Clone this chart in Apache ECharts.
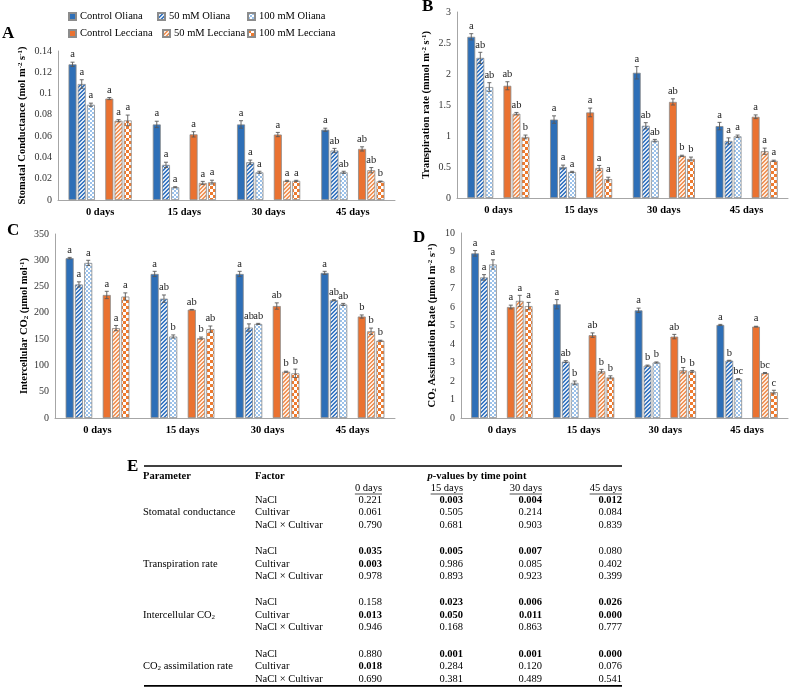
<!DOCTYPE html>
<html><head><meta charset="utf-8">
<script src="https://cdn.jsdelivr.net/npm/echarts@6/dist/echarts.min.js"></script>
<style>html,body{margin:0;padding:0;background:#fff}#c{width:791px;height:695px}</style>
</head><body><div id="c"></div>
<script>
// ---------------- DATA ----------------
const categories = ['0 days', '15 days', '30 days', '45 days'];
const seriesNames = ['Control Oliana', '50 mM Oliana', '100 mM Oliana', 'Control Lecciana', '50 mM Lecciana', '100 mM Lecciana'];

// A: stomatal conductance (rows = series, cols = days)
const conductanceMeans = [
  [0.1275, 0.071, 0.071, 0.066],
  [0.109, 0.033, 0.0355, 0.0465],
  [0.0895, 0.012, 0.026, 0.026],
  [0.0953, 0.0617, 0.0615, 0.048],
  [0.0745, 0.016, 0.018, 0.028],
  [0.0748, 0.0168, 0.018, 0.0175]
];
const conductanceErrors = [
  [0.002, 0.003, 0.0035, 0.0015],
  [0.004, 0.0025, 0.002, 0.002],
  [0.0015, 0.0005, 0.001, 0.001],
  [0.001, 0.0025, 0.002, 0.002],
  [0.001, 0.0015, 0.0005, 0.0025],
  [0.005, 0.0018, 0.0005, 0.0003]
];
const conductanceLetters = [
  ['a', 'a', 'a', 'a'], ['a', 'a', 'a', 'ab'], ['a', 'a', 'a', 'ab'],
  ['a', 'a', 'a', 'ab'], ['a', 'a', 'a', 'ab'], ['a', 'a', 'a', 'b']
];
const conductanceTicks = [0, 0.02, 0.04, 0.06, 0.08, 0.1, 0.12, 0.14];

// B: transpiration rate
const transpirationMeans = [
  [2.6, 1.265, 2.02, 1.16],
  [2.26, 0.5, 1.165, 0.92],
  [1.79, 0.42, 0.925, 0.995],
  [1.81, 1.38, 1.55, 1.31],
  [1.36, 0.485, 0.68, 0.755],
  [0.985, 0.305, 0.63, 0.6]
];
const transpirationErrors = [
  [0.05, 0.06, 0.1, 0.06],
  [0.09, 0.03, 0.05, 0.05],
  [0.07, 0.01, 0.02, 0.02],
  [0.065, 0.07, 0.05, 0.03],
  [0.02, 0.04, 0.01, 0.05],
  [0.03, 0.03, 0.03, 0.01]
];
const transpirationLetters = [
  ['a', 'a', 'a', 'a'], ['ab', 'a', 'ab', 'a'], ['ab', 'a', 'ab', 'a'],
  ['ab', 'a', 'ab', 'a'], ['ab', 'a', 'b', 'a'], ['b', 'a', 'b', 'a']
];
const transpirationTicks = [0, 0.5, 1, 1.5, 2, 2.5, 3];

// C: intercellular CO2
const intercellularMeans = [
  [304, 274, 274, 276],
  [254, 227, 172, 224],
  [295, 155, 179, 216],
  [234, 206, 213, 193],
  [171, 152, 88, 165],
  [231, 169, 85, 147]
];
const intercellularErrors = [
  [1.5, 5, 5, 3],
  [5, 7, 7, 1],
  [5, 3, 1, 2],
  [7, 0.5, 6, 3],
  [5, 2, 1, 6],
  [7, 6, 8, 1]
];
const intercellularLetters = [
  ['a', 'a', 'a', 'a'], ['a', 'ab', 'ab', 'ab'], ['a', 'b', 'ab', 'ab'],
  ['a', 'ab', 'ab', 'b'], ['a', 'b', 'b', 'b'], ['a', 'ab', 'b', 'b']
];
const intercellularTicks = [0, 50, 100, 150, 200, 250, 300, 350];

// D: CO2 assimilation rate
const assimilationMeans = [
  [8.9, 6.15, 5.82, 5.03],
  [7.6, 3.05, 2.83, 3.1],
  [8.3, 1.9, 3.0, 2.1],
  [6.0, 4.48, 4.4, 4.94],
  [6.33, 2.53, 2.58, 2.43],
  [6.05, 2.2, 2.52, 1.4]
];
const assimilationErrors = [
  [0.15, 0.25, 0.12, 0.03],
  [0.15, 0.05, 0.03, 0.02],
  [0.25, 0.1, 0.03, 0.03],
  [0.1, 0.12, 0.12, 0.02],
  [0.3, 0.1, 0.15, 0.03],
  [0.2, 0.08, 0.05, 0.1]
];
const assimilationLetters = [
  ['a', 'a', 'a', 'a'], ['a', 'ab', 'b', 'b'], ['a', 'b', 'b', 'bc'],
  ['a', 'ab', 'ab', 'a'], ['a', 'b', 'b', 'bc'], ['a', 'b', 'b', 'c']
];
const assimilationTicks = [0, 1, 2, 3, 4, 5, 6, 7, 8, 9, 10];

// E: p-value table
const tableParameters = ['Stomatal conductance', 'Transpiration rate', 'Intercellular CO₂', 'CO₂ assimilation rate'];
const tableFactors = ['NaCl', 'Cultivar', 'NaCl × Cultivar'];
const tableTimepoints = ['0 days', '15 days', '30 days', '45 days'];
const pStomatal = [[0.221, 0.003, 0.004, 0.012], [0.061, 0.505, 0.214, 0.084], [0.790, 0.681, 0.903, 0.839]];
const pTranspiration = [[0.035, 0.005, 0.007, 0.080], [0.003, 0.986, 0.085, 0.402], [0.978, 0.893, 0.923, 0.399]];
const pIntercellular = [[0.158, 0.023, 0.006, 0.026], [0.013, 0.050, 0.011, 0.000], [0.946, 0.168, 0.863, 0.777]];
const pAssimilation = [[0.880, 0.001, 0.001, 0.000], [0.018, 0.284, 0.120, 0.076], [0.690, 0.381, 0.489, 0.541]];

// ---------------- STYLE ----------------
const FONT = '"Liberation Serif", "Times New Roman", serif';
const CG = 0.25, BG = 0.15;

function diagPattern(fg, bg) {
  const c = document.createElement('canvas'); c.width = 4; c.height = 4;
  const ctx = c.getContext('2d'); ctx.fillStyle = bg; ctx.fillRect(0, 0, 4, 4);
  ctx.fillStyle = fg;
  for (let x = 0; x < 4; x++) for (let y = 0; y < 4; y++) if ((x + y) % 4 < 2) ctx.fillRect(x, y, 1, 1);
  return { image: c, repeat: 'repeat' };
}
function checkPattern(fg, bg, s) {
  const c = document.createElement('canvas'); c.width = 2 * s; c.height = 2 * s;
  const ctx = c.getContext('2d'); ctx.fillStyle = bg; ctx.fillRect(0, 0, 2 * s, 2 * s);
  ctx.fillStyle = fg; ctx.fillRect(0, 0, s, s); ctx.fillRect(s, s, s, s);
  return { image: c, repeat: 'repeat' };
}
const fills = [
  '#2E6FB7',
  diagPattern('#3B78C2', '#DDE8F5'),
  checkPattern('#9CC2EA', '#FFFFFF', 2),
  '#EA7231',
  diagPattern('#F0945A', '#FDEBDD'),
  checkPattern('#EE7B30', '#FFFFFF', 3)
];

const panels = [
  { grid: { left: 58, top: 51, width: 337, height: 149 }, means: conductanceMeans, errors: conductanceErrors, letters: conductanceLetters, ticks: conductanceTicks,
    name: '{b|Stomatal Conductance (mol m}{s|-2}{b| s}{s|-1}{b|)}', gap: 30 },
  { grid: { left: 457, top: 12, width: 331, height: 186 }, means: transpirationMeans, errors: transpirationErrors, letters: transpirationLetters, ticks: transpirationTicks,
    name: '{b|Transpiration rate (mmol m}{s|-2}{b| s}{s|-1}{b|)}', gap: 25 },
  { grid: { left: 55, top: 234, width: 340, height: 184 }, means: intercellularMeans, errors: intercellularErrors, letters: intercellularLetters, ticks: intercellularTicks,
    name: '{b|Intercellular CO}{u|2}{b| (µmol mol}{s|-1}{b|)}', gap: 25 },
  { grid: { left: 461, top: 233, width: 327, height: 185 }, means: assimilationMeans, errors: assimilationErrors, letters: assimilationLetters, ticks: assimilationTicks,
    name: '{b|CO}{u|2}{b| Assimilation Rate (µmol m}{s|-2}{b| s}{s|-1}{b|)}', gap: 23 }
];
const nameRich = {
  b: { fontFamily: FONT, fontWeight: 'bold', fontSize: 10.5, color: '#000' },
  s: { fontFamily: FONT, fontWeight: 'bold', fontSize: 7, color: '#000', verticalAlign: 'top' },
  u: { fontFamily: FONT, fontWeight: 'bold', fontSize: 7, color: '#000', verticalAlign: 'bottom' }
};
const slotOf = [0, 1, 2, 4, 5, 6];

const grids = [], xAxes = [], yAxes = [], series = [];
panels.forEach((p, k) => {
  grids.push(Object.assign({ containLabel: false }, p.grid));
  xAxes.push({ gridIndex: k, type: 'category', data: categories,
    axisLine: { lineStyle: { color: '#a6a6a6', width: 1 } }, axisTick: { show: false },
    axisLabel: { fontFamily: FONT, fontWeight: 'bold', fontSize: 10.5, color: '#000', margin: 7 } });
  const t = p.ticks;
  yAxes.push({ gridIndex: k, type: 'value', min: t[0], max: t[t.length - 1], interval: t[1] - t[0],
    splitLine: { show: false }, axisLine: { show: true, lineStyle: { color: '#a6a6a6', width: 1 } }, axisTick: { show: false },
    axisLabel: { fontFamily: FONT, fontSize: 10, color: '#333', margin: 6, formatter: v => String(+v.toFixed(3)) },
    name: p.name, nameLocation: 'middle', nameGap: p.gap, nameRotate: 90, nameTextStyle: { rich: nameRich } });
  for (let slot = 0; slot < 7; slot++) {
    const si = slotOf.indexOf(slot);
    if (si < 0) {
      series.push({ type: 'bar', name: 'spacer', xAxisIndex: k, yAxisIndex: k, data: ['-', '-', '-', '-'], barGap: BG * 100 + '%', barCategoryGap: CG * 100 + '%', silent: true });
      continue;
    }
    series.push({ type: 'bar', name: seriesNames[si], xAxisIndex: k, yAxisIndex: k, data: p.means[si],
      barGap: BG * 100 + '%', barCategoryGap: CG * 100 + '%', silent: true,
      itemStyle: { color: fills[si], borderColor: '#8c8c8c', borderWidth: 0.8 } });
  }
  const errData = [], errLetters = [];
  for (let si = 0; si < 6; si++) for (let c = 0; c < 4; c++) {
    errData.push([c, p.means[si][c], p.errors[si][c], slotOf[si]]);
    errLetters.push(p.letters[si][c]);
  }
  series.push({ type: 'custom', xAxisIndex: k, yAxisIndex: k, z: 10, silent: true, data: errData,
    encode: { x: 0, y: 1 },
    renderItem: (params, api) => {
      const cat = api.value(0), val = api.value(1), err = api.value(2), slot = api.value(3);
      const band = api.size([1, 0])[0];
      const bw = band * (1 - CG) / (7 + 6 * BG);
      const cx = api.coord([cat, 0])[0] - band * (1 - CG) / 2 + slot * bw * (1 + BG) + bw / 2;
      const top = api.coord([cat, val + err])[1];
      const bot = api.coord([cat, val - err])[1];
      const cw = 2;
      const st = { stroke: '#595959', lineWidth: 0.9 };
      return { type: 'group', children: [
        { type: 'line', shape: { x1: cx, y1: top, x2: cx, y2: bot }, style: st },
        { type: 'line', shape: { x1: cx - cw, y1: top, x2: cx + cw, y2: top }, style: st },
        { type: 'line', shape: { x1: cx - cw, y1: bot, x2: cx + cw, y2: bot }, style: st },
        { type: 'text', x: cx, y: top - 2, style: { text: errLetters[params.dataIndex], fontFamily: FONT, fontSize: 10.5, fill: '#222', align: 'center', verticalAlign: 'bottom' } }
      ] };
    } });
});

const legendX = [68, 157, 247, 68, 162, 247];
const legendY = [11, 11, 11, 28, 28, 28];
const legends = seriesNames.map((n, i) => ({ data: [n], left: legendX[i], top: legendY[i], itemWidth: 7, itemHeight: 7, itemGap: 0, padding: 0,
  icon: 'rect', selectedMode: false, textStyle: { fontFamily: FONT, fontSize: 10.5, color: '#000', padding: [0, 0, 0, -1] } }));

// ---------------- TABLE (graphic) ----------------
const mctx = document.createElement('canvas').getContext('2d');
function textW(s, font) { mctx.font = font; return mctx.measureText(s).width; }
const g = [];
function txt(x, y, text, opts) {
  g.push({ type: 'text', x, y, silent: true, style: Object.assign({ text, fontFamily: FONT, fontSize: 10.5, fill: '#000', align: 'left', verticalAlign: 'middle' }, opts || {}) });
}
const panelLetters = [['A', 2, 34], ['B', 422, 7], ['C', 7, 231], ['D', 413, 238], ['E', 127, 467]];
panelLetters.forEach(([t, x, y]) => txt(x, y, t, { fontSize: 17, fontWeight: 'bold' }));

const tLeft = 144, tRight = 622, colRight = [382, 463, 542, 622];
const lineTop = 466, headerY = 476, daysY = 488, row0 = 500, rowStep = 12.5, groupStep = 51.3;
g.push({ type: 'line', silent: true, shape: { x1: tLeft, y1: lineTop, x2: tRight, y2: lineTop }, style: { stroke: '#000', lineWidth: 1.5 } });
txt(143, headerY, 'Parameter', { fontWeight: 'bold' });
txt(255, headerY, 'Factor', { fontWeight: 'bold' });
txt(477, headerY, '{i|p}{b|-values by time point}', { align: 'center', rich: {
  i: { fontFamily: FONT, fontSize: 10.5, fontWeight: 'bold', fontStyle: 'italic' },
  b: { fontFamily: FONT, fontSize: 10.5, fontWeight: 'bold' } } });
tableTimepoints.forEach((t, c) => {
  txt(colRight[c], daysY, t, { align: 'right' });
  const w = textW(t, '10.5px ' + FONT);
  g.push({ type: 'line', silent: true, shape: { x1: colRight[c] - w, y1: daysY + 6, x2: colRight[c], y2: daysY + 6 }, style: { stroke: '#000', lineWidth: 0.7 } });
});
const pTables = [pStomatal, pTranspiration, pIntercellular, pAssimilation];
const paramRich = {
  n: { fontFamily: FONT, fontSize: 10.5, color: '#000' },
  u: { fontFamily: FONT, fontSize: 7, color: '#000', verticalAlign: 'bottom' }
};
function paramText(s) {
  return s.split('₂').map(p => p ? '{n|' + p + '}' : '').join('{u|2}');
}
pTables.forEach((tab, gi) => {
  const base = row0 + gi * groupStep;
  txt(143, base + rowStep, paramText(tableParameters[gi]), { rich: paramRich });
  tab.forEach((row, ri) => {
    const y = base + ri * rowStep;
    txt(255, y, tableFactors[ri]);
    row.forEach((v, c) => txt(colRight[c], y, v.toFixed(3), { align: 'right', fontWeight: v <= 0.05 ? 'bold' : 'normal' }));
  });
});
const lastY = row0 + 3 * groupStep + 2 * rowStep;
g.push({ type: 'line', silent: true, shape: { x1: tLeft, y1: lastY + 7, x2: tRight, y2: lastY + 7 }, style: { stroke: '#000', lineWidth: 1.8 } });

const chart = echarts.init(document.getElementById('c'), null, { renderer: 'canvas' });
chart.setOption({
  animation: false,
  backgroundColor: '#fff',
  grid: grids, xAxis: xAxes, yAxis: yAxes, series: series,
  legend: legends,
  graphic: g
});
</script></body></html>
